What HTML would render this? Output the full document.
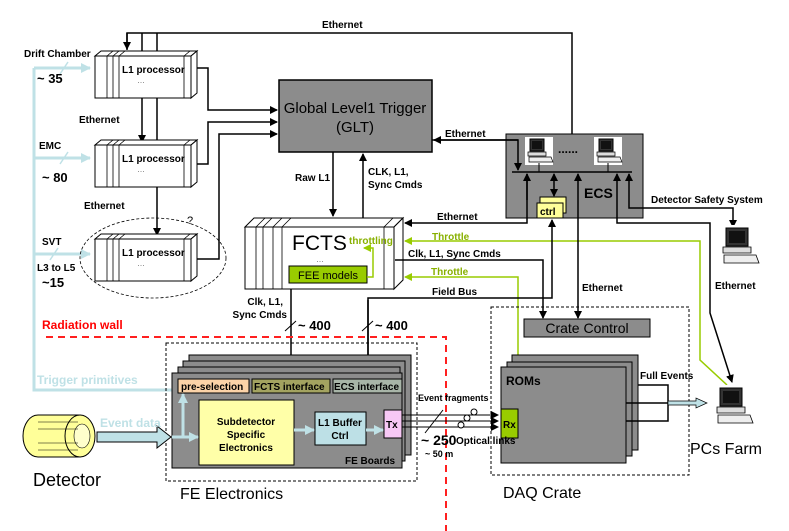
<!DOCTYPE html>
<html><head><meta charset="utf-8"><style>
html,body{margin:0;padding:0;background:#fff;}
svg{display:block;font-family:"Liberation Sans",sans-serif;}
.b{font-weight:bold;font-size:10px;}
</style></head><body>
<svg width="789" height="531" viewBox="0 0 789 531" xmlns="http://www.w3.org/2000/svg">
<defs>
<marker id="a" markerWidth="8" markerHeight="8" refX="7" refY="4" orient="auto" markerUnits="userSpaceOnUse"><path d="M0,0 L8,4 L0,8 z" fill="#000"/></marker>
<marker id="g" markerWidth="8" markerHeight="8" refX="7" refY="4" orient="auto" markerUnits="userSpaceOnUse"><path d="M0,0 L8,4 L0,8 z" fill="#99cc00"/></marker>
<marker id="lb" markerWidth="10" markerHeight="10" refX="9" refY="5" orient="auto" markerUnits="userSpaceOnUse"><path d="M0,0 L10,5 L0,10 z" fill="#bfe1e6"/></marker>
<g id="pc">
<rect x="0" y="0" width="28" height="28" fill="#fff"/>
<rect x="5" y="2" width="14" height="12" fill="#333" stroke="#000"/>
<rect x="7" y="4" width="10" height="8" fill="#111"/>
<path d="M3,15 h18 v4 h-18z" fill="#ddd" stroke="#000" stroke-width="0.7"/>
<path d="M4,20 h22 l2,5 h-24z" fill="#eee" stroke="#000" stroke-width="0.7"/>
</g>
<g id="pcL">
<rect x="0" y="0" width="42" height="42" fill="#fff"/>
<rect x="8" y="3" width="22" height="18" fill="#333" stroke="#000"/>
<rect x="11" y="6" width="16" height="12" fill="#111"/>
<path d="M5,22 h28 v6 h-28z" fill="#ddd" stroke="#000" stroke-width="0.8"/>
<path d="M6,30 h32 l3,8 h-35z" fill="#eee" stroke="#000" stroke-width="0.8"/>
</g>
</defs>

<text x="322" y="28" class="b">Ethernet</text>
<polyline points="127,50 127,33 572,33 572,170" fill="none" stroke="#000" stroke-width="1.5" marker-end="url(#a)"/>
<line x1="127" y1="33" x2="127" y2="49" stroke="#000" stroke-width="1.5" marker-end="url(#a)"/>
<line x1="142" y1="33" x2="142" y2="142" stroke="#000" stroke-width="1.5" marker-end="url(#a)"/>
<line x1="157" y1="33" x2="157" y2="235" stroke="#000" stroke-width="1.5" marker-end="url(#a)"/>

<polyline points="34,68 34,390 178,390" fill="none" stroke="#bfe1e6" stroke-width="3"/>
<line x1="34" y1="68" x2="90" y2="68" stroke="#bfe1e6" stroke-width="3" marker-end="url(#lb)"/>
<line x1="34" y1="158" x2="90" y2="158" stroke="#bfe1e6" stroke-width="3" marker-end="url(#lb)"/>
<line x1="34" y1="254" x2="90" y2="254" stroke="#bfe1e6" stroke-width="3" marker-end="url(#lb)"/>
<line x1="60" y1="74" x2="68" y2="62" stroke="#bfe1e6" stroke-width="1.5"/>
<line x1="60" y1="164" x2="68" y2="152" stroke="#bfe1e6" stroke-width="1.5"/>
<line x1="50" y1="260" x2="58" y2="248" stroke="#bfe1e6" stroke-width="1.5"/>

<text x="24" y="57" class="b">Drift Chamber</text>
<text x="37" y="83" font-size="13" font-weight="bold">~ 35</text>
<text x="79" y="123" class="b">Ethernet</text>
<text x="39" y="149" class="b">EMC</text>
<text x="42" y="182" font-size="13" font-weight="bold">~ 80</text>
<text x="84" y="209" class="b">Ethernet</text>
<text x="42" y="245" class="b">SVT</text>
<text x="37" y="271" class="b">L3 to L5</text>
<text x="42" y="287" font-size="13" font-weight="bold">~15</text>

<ellipse cx="153" cy="258" rx="73" ry="40" fill="none" stroke="#000" stroke-dasharray="3,2" stroke-width="0.8"/>
<text x="187" y="224" font-size="11">?</text>

<g id="l1">
<path d="M95,56 L101,51 L197,51 L191,56 z" fill="#fff" stroke="#000"/>
<path d="M191,56 L197,51 L197,93 L191,98 z" fill="#fff" stroke="#000"/>
<rect x="95" y="56" width="96" height="42" fill="#fff" stroke="#000"/>
<path d="M107,56v42M113,56v42M119,56v42M184,56v42M107,56l6,-5M113,56l6,-5M119,56l6,-5M184,56l6,-5" stroke="#000" fill="none" stroke-width="0.8"/>
<text x="122" y="73" class="b" font-size="11">L1 processor</text>
<text x="137" y="83" font-size="8" fill="#666">…</text>
</g>
<use href="#l1" y="89"/>
<use href="#l1" y="183"/>

<polyline points="197,68 208,68 208,110 277,110" fill="none" stroke="#000" stroke-width="1.5" marker-end="url(#a)"/>
<polyline points="197,164 208,164 208,122 277,122" fill="none" stroke="#000" stroke-width="1.5" marker-end="url(#a)"/>
<polyline points="197,259 219,259 219,134 277,134" fill="none" stroke="#000" stroke-width="1.5" marker-end="url(#a)"/>

<rect x="279" y="80" width="153" height="72" fill="#8c8c8c" stroke="#000" stroke-width="1.5"/>
<text x="355" y="113" font-size="15" text-anchor="middle">Global Level1 Trigger</text>
<text x="355" y="132" font-size="15" text-anchor="middle">(GLT)</text>

<line x1="333" y1="152" x2="333" y2="216" stroke="#000" stroke-width="1.5" marker-end="url(#a)"/>
<line x1="363" y1="218" x2="363" y2="154" stroke="#000" stroke-width="1.5" marker-end="url(#a)"/>
<text x="295" y="181" class="b">Raw L1</text>
<text x="368" y="175" class="b">CLK, L1,</text>
<text x="368" y="188" class="b">Sync Cmds</text>

<path d="M245,227 L254,218 L403,218 L394,227 z" fill="#fff" stroke="#000"/>
<path d="M394,227 L403,218 L403,280 L394,289 z" fill="#fff" stroke="#000"/>
<rect x="245" y="227" width="149" height="62" fill="#fff" stroke="#000"/>
<path d="M256,227v62M263,227v62M273,227v62M282,227v62M384,227v62M256,227l9,-9M263,227l9,-9M273,227l9,-9M282,227l9,-9M384,227l9,-9" stroke="#000" fill="none" stroke-width="0.8"/>
<text x="292" y="250" font-size="21">FCTS</text>
<text x="349" y="244" font-size="10" font-weight="bold" fill="#88b000">throttling</text>
<text x="316" y="262" font-size="8" fill="#666">…</text>
<rect x="289" y="266" width="78" height="17" fill="#99cc00" stroke="#000"/>
<text x="328" y="279" font-size="11" text-anchor="middle">FEE models</text>
<polyline points="367,277 373,277 373,248 364,248" fill="none" stroke="#99cc00" stroke-width="1.5" marker-end="url(#g)"/>

<rect x="506" y="134" width="137" height="84" fill="#8c8c8c" stroke="#000"/>
<line x1="512" y1="172" x2="632" y2="172" stroke="#000" stroke-width="1.5"/>
<use href="#pc" x="525" y="137"/>
<use href="#pc" x="594" y="137"/>
<line x1="539" y1="163" x2="539" y2="172" stroke="#000"/>
<line x1="608" y1="163" x2="608" y2="172" stroke="#000"/>
<text x="558" y="153" font-size="12" font-weight="bold">......</text>
<text x="584" y="198" font-size="14" font-weight="bold">ECS</text>
<rect x="540" y="197" width="26" height="16" fill="#ffff99" stroke="#000"/>
<rect x="537" y="203" width="26" height="15" fill="#ffff99" stroke="#000"/>
<text x="540" y="215" class="b" font-size="11">ctrl</text>
<line x1="554" y1="185" x2="554" y2="174" stroke="#000" stroke-width="1.5" marker-end="url(#a)"/>
<line x1="554" y1="185" x2="554" y2="196" stroke="#000" stroke-width="1.5" marker-end="url(#a)"/>

<text x="445" y="137" class="b">Ethernet</text>
<polyline points="432,140 518,140 518,170" fill="none" stroke="#000" stroke-width="1.5" marker-end="url(#a)"/>
<polyline points="518,140 434,140" fill="none" stroke="#000" stroke-width="1.5" marker-end="url(#a)"/>

<text x="437" y="220" class="b">Ethernet</text>
<polyline points="527,174 527,223 405,223" fill="none" stroke="#000" stroke-width="1.5" marker-end="url(#a)"/>
<line x1="527" y1="200" x2="527" y2="174" stroke="#000" stroke-width="1.5" marker-end="url(#a)"/>

<text x="432" y="240" class="b" fill="#88b000">Throttle</text>
<polyline points="727,385 700,360 700,241 405,241" fill="none" stroke="#99cc00" stroke-width="1.5" marker-end="url(#g)"/>
<text x="408" y="257" class="b">Clk, L1, Sync Cmds</text>
<polyline points="395,260 543,260 543,318" fill="none" stroke="#000" stroke-width="1.5" marker-end="url(#a)"/>
<text x="431" y="275" class="b" fill="#88b000">Throttle</text>
<polyline points="518,367 518,277 405,277" fill="none" stroke="#99cc00" stroke-width="1.5" marker-end="url(#g)"/>
<text x="432" y="295" class="b">Field Bus</text>
<polyline points="368,378 368,298 552,298 552,220" fill="none" stroke="#000" stroke-width="1.5" marker-end="url(#a)"/>
<line x1="368" y1="300" x2="368" y2="379" stroke="#000" stroke-width="1.5" marker-end="url(#a)"/>

<line x1="578" y1="240" x2="578" y2="174" stroke="#000" stroke-width="1.5" marker-end="url(#a)"/>
<line x1="578" y1="240" x2="578" y2="318" stroke="#000" stroke-width="1.5" marker-end="url(#a)"/>
<text x="582" y="291" class="b">Ethernet</text>

<polyline points="617,200 617,223 710,223 710,313 732,382" fill="none" stroke="#000" stroke-width="1.5" marker-end="url(#a)"/>
<line x1="617" y1="200" x2="617" y2="174" stroke="#000" stroke-width="1.5" marker-end="url(#a)"/>
<polyline points="629,190 629,208 733,208 733,227" fill="none" stroke="#000" stroke-width="1.5" marker-end="url(#a)"/>
<line x1="629" y1="190" x2="629" y2="174" stroke="#000" stroke-width="1.5" marker-end="url(#a)"/>
<text x="651" y="203" class="b">Detector Safety System</text>
<use href="#pcL" x="718" y="225"/>
<text x="715" y="289" class="b">Ethernet</text>

<line x1="291" y1="289" x2="291" y2="378" stroke="#000" stroke-width="1.5" marker-end="url(#a)"/>
<text x="283" y="305" class="b" text-anchor="end">Clk, L1,</text>
<text x="287" y="318" class="b" text-anchor="end">Sync Cmds</text>
<line x1="285" y1="331" x2="296" y2="321" stroke="#000"/>
<text x="298" y="330" font-size="13" font-weight="bold">~ 400</text>
<line x1="362" y1="331" x2="373" y2="321" stroke="#000"/>
<text x="375" y="330" font-size="13" font-weight="bold">~ 400</text>

<text x="42" y="329" font-size="12" font-weight="bold" fill="#ff0000">Radiation wall</text>
<polyline points="46,337 446,337 446,531" fill="none" stroke="#ff2020" stroke-width="2" stroke-dasharray="7,5"/>
<text x="37" y="384" font-size="12" font-weight="bold" fill="#bfe1e6">Trigger primitives</text>

<rect x="166" y="343" width="251" height="138" fill="none" stroke="#000" stroke-dasharray="3,2"/>
<text x="180" y="499" font-size="16">FE Electronics</text>
<rect x="189" y="355" width="222" height="100" fill="#8c8c8c" stroke="#000"/>
<rect x="183" y="361" width="222" height="100" fill="#8c8c8c" stroke="#000"/>
<rect x="178" y="367" width="222" height="100" fill="#8c8c8c" stroke="#000"/>
<rect x="172" y="373" width="230" height="95" fill="#8c8c8c" stroke="#000"/>
<rect x="178" y="379" width="71" height="14" fill="#fbd3a8" stroke="#000"/>
<text x="181" y="390" class="b" font-size="10">pre-selection</text>
<rect x="252" y="379" width="78" height="14" fill="#a3a360" stroke="#000"/>
<text x="254" y="390" class="b" font-size="10">FCTS interface</text>
<rect x="333" y="379" width="69" height="14" fill="#a8b5a8" stroke="#000"/>
<text x="334" y="390" class="b" font-size="10">ECS interface</text>
<rect x="199" y="400" width="95" height="65" fill="#ffffa8" stroke="#000"/>
<text x="246" y="425" class="b" font-size="11" text-anchor="middle">Subdetector</text>
<text x="246" y="438" class="b" font-size="11" text-anchor="middle">Specific</text>
<text x="246" y="451" class="b" font-size="11" text-anchor="middle">Electronics</text>
<rect x="315" y="412" width="51" height="33" fill="#bde0e6" stroke="#000"/>
<text x="340" y="426" class="b" font-size="11" text-anchor="middle">L1 Buffer</text>
<text x="340" y="439" class="b" font-size="11" text-anchor="middle">Ctrl</text>
<rect x="384" y="410" width="18" height="28" fill="#f7c8f5" stroke="#000"/>
<text x="386" y="428" class="b" font-size="10">Tx</text>
<text x="345" y="464" class="b" font-size="10">FE Boards</text>
<line x1="294" y1="430" x2="314" y2="430" stroke="#bfe1e6" stroke-width="3" marker-end="url(#lb)"/>
<line x1="366" y1="430" x2="383" y2="430" stroke="#bfe1e6" stroke-width="3" marker-end="url(#lb)"/>
<line x1="172" y1="437" x2="198" y2="437" stroke="#bfe1e6" stroke-width="3" marker-end="url(#lb)"/>
<line x1="183" y1="437" x2="183" y2="394" stroke="#bfe1e6" stroke-width="3" marker-end="url(#lb)"/>

<path d="M97,432 h60 v-6 l14,11 l-14,11 v-6 h-60z" fill="#bfe1e6" stroke="#000"/>
<text x="100" y="427" font-size="12" font-weight="bold" fill="#bfe1e6">Event data</text>
<path d="M38,415 h40 a15,21 0 0 1 0,42 h-40 a15,21 0 0 1 0,-42z" fill="#ffff99" stroke="#000"/>
<ellipse cx="80" cy="436" rx="15" ry="21" fill="#ffff99" stroke="#000"/>
<ellipse cx="82" cy="436" rx="8" ry="12" fill="#ffffcc" stroke="#000" stroke-width="0.6"/>
<path d="M38,422h40M38,429h40M38,443h40M38,450h40" stroke="#000" stroke-width="0.5"/>
<text x="33" y="486" font-size="18">Detector</text>

<text x="418" y="401" font-size="9" font-weight="bold">Event fragments</text>
<line x1="402" y1="415" x2="498" y2="415" stroke="#000" marker-end="url(#a)"/>
<line x1="402" y1="421" x2="498" y2="421" stroke="#000" marker-end="url(#a)"/>
<line x1="402" y1="427" x2="498" y2="427" stroke="#000" marker-end="url(#a)"/>
<line x1="425" y1="433" x2="443" y2="410" stroke="#000"/>
<circle cx="461" cy="425" r="3" fill="#fff" stroke="#000"/>
<circle cx="467" cy="418" r="3" fill="#fff" stroke="#000"/>
<circle cx="474" cy="412" r="3" fill="#fff" stroke="#000"/>
<text x="421" y="445" font-size="14" font-weight="bold">~ 250</text>
<text x="425" y="457" font-size="9" font-weight="bold">~ 50 m</text>

<rect x="491" y="307" width="198" height="168" fill="none" stroke="#000" stroke-dasharray="3,2"/>
<text x="503" y="498" font-size="16">DAQ Crate</text>
<rect x="524" y="319" width="126" height="18" fill="#8c8c8c" stroke="#000"/>
<text x="587" y="333" font-size="14" text-anchor="middle">Crate Control</text>
<rect x="512" y="355" width="126" height="95" fill="#8c8c8c" stroke="#000"/>
<rect x="507" y="362" width="125" height="94" fill="#8c8c8c" stroke="#000"/>
<rect x="501" y="367" width="125" height="96" fill="#8c8c8c" stroke="#000"/>
<text x="506" y="385" font-size="12" font-weight="bold">ROMs</text>
<rect x="501" y="409" width="17" height="29" fill="#99cc00" stroke="#000"/>
<text x="503" y="428" class="b">Rx</text>
<text x="456" y="444" class="b">Optical links</text>
<text x="640" y="379" class="b">Full Events</text>
<polyline points="638,385 668,385 668,421 626,421" fill="none" stroke="#000" stroke-width="1.5"/>
<line x1="626" y1="403" x2="668" y2="403" stroke="#000" stroke-width="1.5"/>
<path d="M668,401 h28 v-3 l11,5 l-11,5 v-3 h-28z" fill="#bfe1e6" stroke="#000" stroke-width="0.7"/>
<use href="#pcL" x="712" y="385"/>
<text x="690" y="454" font-size="16">PCs Farm</text>
</svg>
</body></html>
